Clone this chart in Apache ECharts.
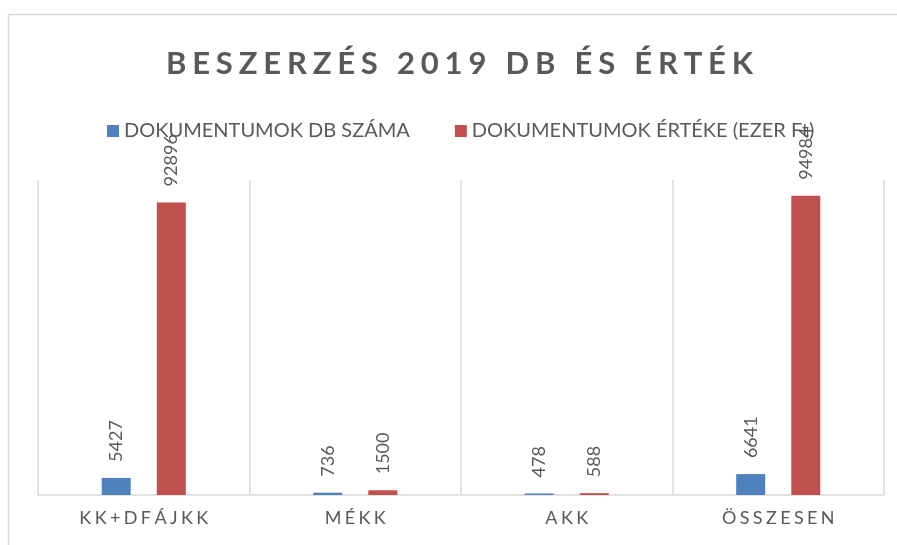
<!DOCTYPE html>
<html>
<head>
<meta charset="utf-8">
<script src="https://cdn.jsdelivr.net/npm/echarts@6/dist/echarts.min.js"></script>
<style>
html, body { margin: 0; padding: 0; background: #fff; }
#chart { width: 897px; height: 545px; }
</style>
</head>
<body>
<div id="chart"></div>
<script>
var categories = ['KK+DFÁJKK', 'MÉKK', 'AKK', 'ÖSSZESEN'];
var seriesNames = ['DOKUMENTUMOK DB SZÁMA', 'DOKUMENTUMOK ÉRTÉKE (EZER Ft)'];
var dbSzama = [5427, 736, 478, 6641];
var ertek = [92896, 1500, 588, 94984];

var gray = '#595959';
var font = 'Lato';

// letter spacing like in the Excel chart
function spaced(s) {
    return s.split('').join('\u200A\u200A\u200A');
}

var option = {
    backgroundColor: '#fff',
    animation: false,
    title: {
        text: spaced('BESZERZÉS 2019 DB ÉS ÉRTÉK'),
        left: 161,
        top: 43,
        textStyle: { color: gray, fontFamily: font, fontWeight: 'bold', fontSize: 31 }
    },
    legend: {
        left: 102,
        top: 116,
        itemWidth: 12,
        itemHeight: 12,
        itemGap: 45,
        icon: 'rect',
        textStyle: { color: gray, fontFamily: font, fontSize: 20 },
        data: seriesNames
    },
    grid: { left: 38, right: 13, top: 180, bottom: 50 },
    xAxis: {
        type: 'category',
        data: categories,
        axisLine: { lineStyle: { color: '#D9D9D9', width: 1.5 } },
        axisTick: { show: false },
        splitLine: { show: true, interval: 0, lineStyle: { color: '#D9D9D9', width: 1.5 } },
        axisLabel: {
            color: gray, fontFamily: font, fontSize: 18, margin: 14,
            formatter: function (v) { return spaced(v); }
        }
    },
    yAxis: {
        type: 'value',
        min: 0,
        max: 100000,
        show: false,
        splitLine: { show: false }
    },
    series: [{
        name: seriesNames[0],
        type: 'bar',
        data: dbSzama,
        barWidth: 29,
        barGap: '90%',
        itemStyle: { color: '#4F81BD' },
        label: {
            show: true, position: 'top', rotate: 90, align: 'left', verticalAlign: 'middle',
            distance: 16, color: gray, fontFamily: font, fontSize: 18
        }
    }, {
        name: seriesNames[1],
        type: 'bar',
        data: ertek,
        barWidth: 29,
        itemStyle: { color: '#C0504D' },
        label: {
            show: true, position: 'top', rotate: 90, align: 'left', verticalAlign: 'middle',
            distance: 16, color: gray, fontFamily: font, fontSize: 18
        }
    }],
    graphic: [{
        type: 'rect',
        shape: { x: 8.5, y: 14.5, width: 900, height: 540 },
        style: { fill: 'none', stroke: '#D9D9D9', lineWidth: 1.5 },
        silent: true
    }]
};

var chart = echarts.init(document.getElementById('chart'));
chart.setOption(option);
</script>
</body>
</html>
